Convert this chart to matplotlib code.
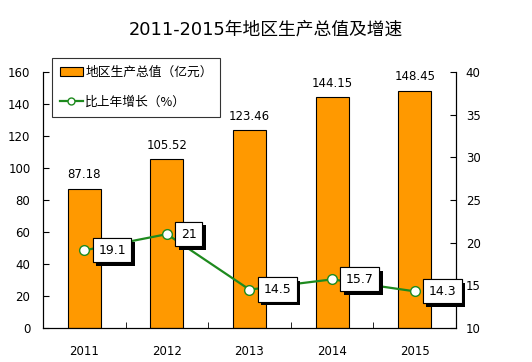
import matplotlib
matplotlib.use("Agg")
import matplotlib.pyplot as plt
import matplotlib.patheffects as pe
from matplotlib.lines import Line2D
from matplotlib.patches import Patch

plt.rcParams['font.family'] = ['DejaVu Sans', 'Noto Sans CJK SC']

years = ['2011', '2012', '2013', '2014', '2015']
gdp = [87.18, 105.52, 123.46, 144.15, 148.45]
growth = [19.1, 21, 14.5, 15.7, 14.3]
growth_labels = ['19.1', '21', '14.5', '15.7', '14.3']

orange = '#FF9900'
green = '#1E8A1E'

fig = plt.figure(figsize=(5.32, 3.62), dpi=100)
ax = fig.add_axes([0.0808, 0.0939, 0.7763, 0.7071])
x = list(range(len(years)))

ax.bar(x, gdp, width=0.4, color=orange, edgecolor='black', linewidth=0.8, zorder=2)
for xi, v in zip(x, gdp):
    ax.text(xi, v + 4.5, f'{v:.2f}', ha='center', va='bottom', fontsize=8.5)

ax.set_xlim(-0.5, len(years) - 0.5)
ax.set_ylim(0, 160)
ax.set_yticks(range(0, 161, 20))
ax.set_xticks(x)
ax.set_xticklabels(years, fontsize=8.5)
ax.set_xticks([i + 0.5 for i in x[:-1]], minor=True)
ax.tick_params(axis='x', which='major', length=0, pad=12)
ax.tick_params(axis='x', which='minor', length=4, direction='in')
ax.tick_params(axis='y', direction='in', length=4, labelsize=8.5, pad=9)
ax.spines['top'].set_visible(False)

ax2 = ax.twinx()
ax2.set_ylim(10, 40)
ax2.set_yticks(range(10, 41, 5))
ax2.tick_params(axis='y', direction='in', length=4, labelsize=8.5, pad=7)
ax2.spines['top'].set_visible(False)
ax2.plot(x, growth, color=green, linewidth=1.6, marker='o', markersize=7,
         markerfacecolor='white', markeredgecolor=green, markeredgewidth=1, zorder=3)

for xi, v, lab in zip(x, growth, growth_labels):
    t = ax2.annotate(lab, (xi, v), xytext=(10, 0), textcoords='offset points',
                     ha='left', va='center', fontsize=9, zorder=4,
                     bbox=dict(boxstyle='square,pad=0.45', fc='white', ec='black', lw=0.8))
    t.get_bbox_patch().set_path_effects([
        pe.withSimplePatchShadow(offset=(2.5, -2.5), shadow_rgbFace='black', alpha=1),
        pe.Normal()])

handles = [Patch(facecolor=orange, edgecolor='black', linewidth=0.8),
           Line2D([0], [0], color=green, linewidth=1.6, marker='o', markersize=5,
                  markerfacecolor='white', markeredgecolor=green)]
leg = fig.legend(handles, ['地区生产总值（亿元）', '比上年增长（%）'],
                 loc='upper left', bbox_to_anchor=(52 / 532, 1 - 58 / 362),
                 frameon=True, fancybox=False, edgecolor='black', borderaxespad=0,
                 borderpad=0.6, labelspacing=1.35, handlelength=1.8, handletextpad=0.2,
                 prop={'family': ['Noto Sans CJK SC', 'DejaVu Sans'], 'size': 9.2})
leg.get_frame().set_linewidth(0.8)

fig.text(0.5, 1 - 30 / 362, '2011-2015年地区生产总值及增速', ha='center', va='center',
         fontsize=12.8, family=['DejaVu Sans', 'Noto Sans CJK SC'])

fig.savefig('out.png', dpi=100)
